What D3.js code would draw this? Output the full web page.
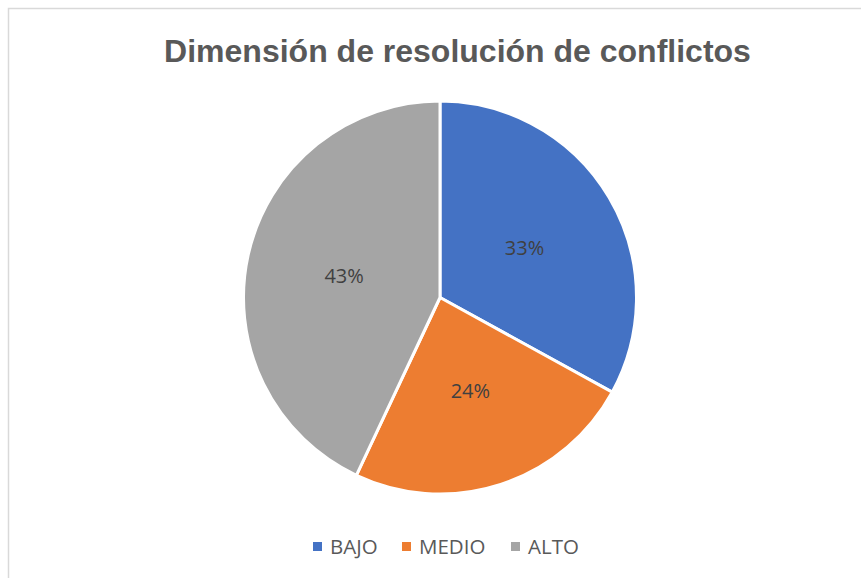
<!DOCTYPE html>
<html>
<head>
<meta charset="utf-8">
<script src="https://cdn.jsdelivr.net/npm/d3@7"></script>
<style>
  html, body { margin: 0; padding: 0; background: #fff; }
  svg { display: block; }
</style>
</head>
<body>
<svg id="chart" width="861" height="578"></svg>
<script>
const title = "Dimensión de resolución de conflictos";
const categories = ["BAJO", "MEDIO", "ALTO"];
const values = [33, 24, 43];
const colors = ["#4472C4", "#ED7D31", "#A5A5A5"];

const W = 861, H = 578;
const cx = 440, cy = 297.5, R = 196.5;

const svg = d3.select("#chart");

// chart border (only left & top visible)
svg.append("rect")
  .attr("x", 8.5).attr("y", 8.5)
  .attr("width", 900).attr("height", 600)
  .attr("fill", "#fff")
  .attr("stroke", "#d9d9d9")
  .attr("stroke-width", 1.5);

svg.append("text")
  .attr("x", 457.5).attr("y", 61.5)
  .attr("text-anchor", "middle")
  .attr("font-family", "'Liberation Sans', Arial, sans-serif")
  .attr("font-weight", "bold")
  .attr("font-size", 32)
  .attr("fill", "#595959")
  .text(title);

const data = categories.map((c, i) => ({ cat: c, value: values[i], color: colors[i] }));
const pie = d3.pie().value(d => d.value).sort(null);
const arcs = pie(data);
const arc = d3.arc().innerRadius(0).outerRadius(R);

const g = svg.append("g").attr("transform", `translate(${cx},${cy})`);

g.selectAll("path.slice")
  .data(arcs)
  .join("path")
  .attr("class", "slice")
  .attr("d", arc)
  .attr("fill", d => d.data.color)
  .attr("stroke", "#fff")
  .attr("stroke-width", 3)
  .attr("stroke-linejoin", "round");

const total = d3.sum(values);
g.selectAll("text.lbl")
  .data(arcs)
  .join("text")
  .attr("class", "lbl")
  .attr("transform", d => `translate(${arc.centroid(d)})`)
  .attr("text-anchor", "middle")
  .attr("dy", "0.36em")
  .attr("font-family", "'Open Sans', sans-serif")
  .attr("font-size", 20)
  .attr("fill", "#404040")
  .text(d => Math.round(d.data.value / total * 100) + "%");

// legend
const legendX = [313, 402, 511];
const leg = svg.append("g");
data.forEach((d, i) => {
  leg.append("rect")
    .attr("x", legendX[i]).attr("y", 542)
    .attr("width", 9).attr("height", 9)
    .attr("fill", d.color);
  leg.append("text")
    .attr("x", legendX[i] + 17).attr("y", 554)
    .attr("font-family", "'Open Sans', sans-serif")
    .attr("font-size", 20.5)
    .attr("fill", "#595959")
    .text(d.cat);
});
</script>
</body>
</html>
